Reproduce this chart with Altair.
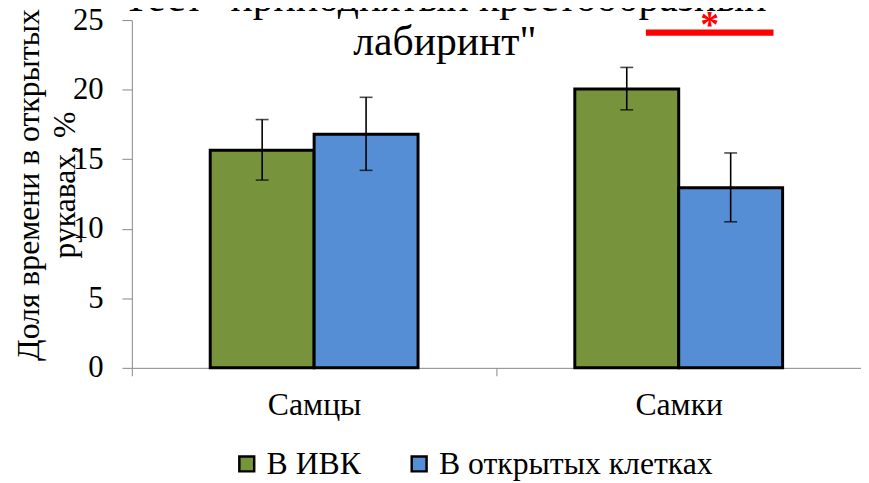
import altair as alt
import pandas as pd

# ---- data ----
categories = ["Самцы", "Самки"]
series = ["В ИВК", "В открытых клетках"]
means_ivk = [15.65, 20.05]
means_open = [16.8, 12.95]
err_low_ivk = [13.5, 18.55]
err_high_ivk = [17.85, 21.6]
err_low_open = [14.2, 10.5]
err_high_open = [19.45, 15.45]
colors = ["#77933C", "#558ED5"]
y_ticks = [0, 5, 10, 15, 20, 25]

# significance annotation (x in category units, y in %)
sig_x0 = [1.41]
sig_x1 = [1.76]
sig_y = [24.1]
sig_text = ["*"]

BAR_W = 0.285  # bar width in category units (layout)
FONT = "Liberation Serif"

rows = []
for i, cat in enumerate(categories):
    c = i + 0.5
    for s_idx, (name, m, lo, hi) in enumerate([
        (series[0], means_ivk[i], err_low_ivk[i], err_high_ivk[i]),
        (series[1], means_open[i], err_low_open[i], err_high_open[i]),
    ]):
        x0 = c - BAR_W + s_idx * BAR_W
        rows.append({"cat": cat, "series": name, "x0": x0, "x1": x0 + BAR_W,
                     "xc": x0 + BAR_W / 2, "mean": m, "base": 0, "lo": lo, "hi": hi})
df = pd.DataFrame(rows)
sig = pd.DataFrame({"x0": sig_x0, "x1": sig_x1, "y": sig_y, "t": sig_text,
                    "xm": [(a + b) / 2 for a, b in zip(sig_x0, sig_x1)]})

xscale = alt.Scale(domain=[0, 2], nice=False, zero=False)
yscale = alt.Scale(domain=[0, 25], nice=False)

x_axis = alt.Axis(
    values=[0, 0.5, 1, 1.5, 2],
    labelExpr="datum.value == 0.5 ? 'Самцы' : (datum.value == 1.5 ? 'Самки' : '')",
    tickOpacity={"condition": {"test": "datum.value % 1 == 0", "value": 1}, "value": 0},
    title=None, grid=False, tickSize=8, labelPadding=14,
    labelFont=FONT, labelFontSize=32, labelColor="black",
    domainColor="#888888", tickColor="#888888", labelFlush=False,
)
y_axis = alt.Axis(
    values=y_ticks, grid=False, tickSize=10, labelPadding=19,
    labelFont=FONT, labelFontSize=31, labelColor="black",
    domainColor="#888888", tickColor="#888888",
    title=["Доля времени в открытых", "рукавах, %"],
    titleFont=FONT, titleFontSize=32, titleFontWeight="normal", titleColor="black",
    titleLineHeight=36, titleBaseline="middle", titleX=-104, titleY=166, titleAngle=270,
)

bars = alt.Chart(df).mark_bar(stroke="black", strokeWidth=3).encode(
    x=alt.X("x0:Q", scale=xscale, axis=x_axis),
    x2="x1:Q",
    y=alt.Y("mean:Q", scale=yscale, axis=y_axis),
    y2="base:Q",
    color=alt.Color("series:N", scale=alt.Scale(domain=series, range=colors),
                    legend=alt.Legend(
                        title=None, orient="none", direction="horizontal",
                        legendX=100, legendY=432, symbolType="square",
                        symbolSize=225, symbolStrokeColor="black", symbolStrokeWidth=2.5,
                        labelFont=FONT, labelFontSize=32, labelColor="black",
                        labelLimit=0, labelOffset=4, columnPadding=42)),
)

stems = alt.Chart(df).mark_rule(color="black", strokeWidth=1.6).encode(
    x="xc:Q", y="lo:Q", y2="hi:Q")
caps_lo = alt.Chart(df).mark_tick(color="black", orient="horizontal", size=13, thickness=1.6).encode(
    x="xc:Q", y="lo:Q")
caps_hi = alt.Chart(df).mark_tick(color="black", orient="horizontal", size=13, thickness=1.6).encode(
    x="xc:Q", y="hi:Q")

sig_line = alt.Chart(sig).mark_rule(color="#FF0000", strokeWidth=6.5).encode(
    x="x0:Q", x2="x1:Q", y="y:Q")
sig_star = alt.Chart(sig).mark_text(color="#FF0000", font=FONT, fontSize=38, fontWeight="bold",
                                    baseline="alphabetic", dy=4).encode(
    x="xm:Q", y="y:Q", text="t:N")

chart = alt.layer(bars, stems, caps_lo, caps_hi, sig_line, sig_star).properties(
    width=736, height=351,
    title=alt.TitleParams(
        text=["Тест \"приподнятый крестообразный", "лабиринт\""],
        font=FONT, fontSize=42, fontWeight="normal", color="black",
        anchor="middle", offset=-60, lineHeight=44, dx=-52),
    autosize=alt.AutoSizeParams(type="none"),
    padding={"left": 125, "top": 10, "right": 0, "bottom": 114},
).configure_view(stroke=None)

chart.save("out.html", embed_options={"renderer": "svg", "actions": False})
